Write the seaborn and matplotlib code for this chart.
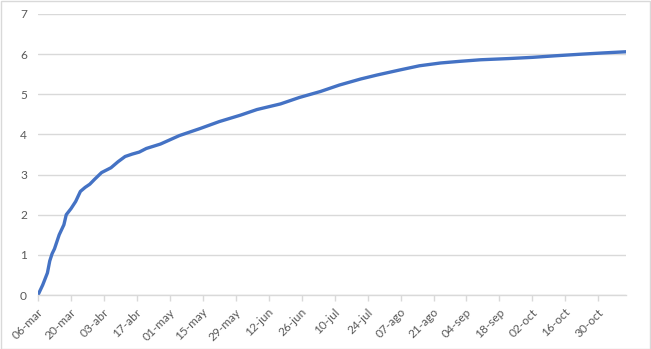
import matplotlib
matplotlib.use("Agg")
import matplotlib.pyplot as plt
import matplotlib.transforms as mtransforms
import seaborn as sns
import pandas as pd
from matplotlib.patches import Rectangle

# ---- data ----
dates = ["2020-03-06", "2020-03-08", "2020-03-10", "2020-03-11", "2020-03-12",
         "2020-03-13", "2020-03-15", "2020-03-17", "2020-03-18", "2020-03-20",
         "2020-03-22", "2020-03-24", "2020-03-26", "2020-03-28", "2020-03-30",
         "2020-04-02", "2020-04-06", "2020-04-09", "2020-04-12", "2020-04-15",
         "2020-04-18", "2020-04-21", "2020-04-27", "2020-05-05", "2020-05-14",
         "2020-05-22", "2020-05-31", "2020-06-07", "2020-06-17", "2020-06-25",
         "2020-07-04", "2020-07-12", "2020-07-21", "2020-07-28", "2020-08-07",
         "2020-08-15", "2020-08-24", "2020-09-01", "2020-09-10", "2020-09-22",
         "2020-10-02", "2020-10-12", "2020-10-23", "2020-11-01", "2020-11-11"]
values = [0.00, 0.25, 0.55, 0.85, 1.03,
          1.15, 1.50, 1.75, 2.00, 2.15,
          2.33, 2.58, 2.68, 2.76, 2.88,
          3.05, 3.17, 3.32, 3.45, 3.51,
          3.56, 3.65, 3.76, 3.97, 4.15,
          4.32, 4.48, 4.62, 4.76, 4.92,
          5.07, 5.23, 5.38, 5.48, 5.61,
          5.71, 5.78, 5.82, 5.86, 5.89,
          5.92, 5.96, 6.00, 6.03, 6.06]
tick_dates = ["2020-03-06", "2020-03-20", "2020-04-03", "2020-04-17", "2020-05-01",
              "2020-05-15", "2020-05-29", "2020-06-12", "2020-06-26", "2020-07-10",
              "2020-07-24", "2020-08-07", "2020-08-21", "2020-09-04", "2020-09-18",
              "2020-10-02", "2020-10-16", "2020-10-30"]
tick_labels = ["06-mar", "20-mar", "03-abr", "17-abr", "01-may", "15-may", "29-may",
               "12-jun", "26-jun", "10-jul", "24-jul", "07-ago", "21-ago", "04-sep",
               "18-sep", "02-oct", "16-oct", "30-oct"]
y_ticks = [0, 1, 2, 3, 4, 5, 6, 7]

df = pd.DataFrame({"fecha": pd.to_datetime(dates), "valor": values})

sns.set_style("white")
plt.rcParams["font.family"] = ["Lato", "DejaVu Sans"]

fig = plt.figure(figsize=(6.51, 3.49), dpi=100)
ax = fig.add_axes([38 / 651, 1 - 295 / 349, (626 - 38) / 651, (295 - 14) / 349])

sns.lineplot(data=df, x="fecha", y="valor", ax=ax, color="#4472C4", linewidth=2.4)

grid_c = "#d9d9d9"
text_c = "#595959"

ax.set_ylim(0, 7)
ax.set_yticks(y_ticks)
ax.set_yticklabels([str(v) for v in y_ticks])
ax.set_xlim(pd.Timestamp("2020-03-06"), pd.Timestamp("2020-11-10 18:00"))
ax.set_xticks(pd.to_datetime(tick_dates))
ax.set_xticklabels(tick_labels, rotation=45, ha="right", va="center",
                   rotation_mode="anchor")

ax.yaxis.grid(True, color=grid_c, linewidth=1)
ax.xaxis.grid(False)
ax.set_axisbelow(True)
for s in ["top", "right", "left"]:
    ax.spines[s].set_visible(False)
ax.spines["bottom"].set_color(grid_c)
ax.spines["bottom"].set_linewidth(1)

ax.tick_params(axis="x", which="major", length=4, width=1, color=grid_c,
               direction="out", labelsize=8.6, labelcolor=text_c, pad=7, bottom=True)
ax.tick_params(axis="y", length=0, labelsize=8.6, labelcolor=text_c, pad=8)

offset = mtransforms.ScaledTranslation(3 / 100, 0, fig.dpi_scale_trans)
for lbl in ax.get_xticklabels():
    lbl.set_transform(lbl.get_transform() + offset)

ax.set_xlabel("")
ax.set_ylabel("")
if ax.get_legend() is not None:
    ax.get_legend().remove()

fig.patches.append(Rectangle((0.5 / 651, 0.5 / 349), 649.5 / 651, 347.5 / 349,
                             transform=fig.transFigure, fill=False,
                             edgecolor=grid_c, linewidth=1))

fig.savefig("out.png", dpi=100)
